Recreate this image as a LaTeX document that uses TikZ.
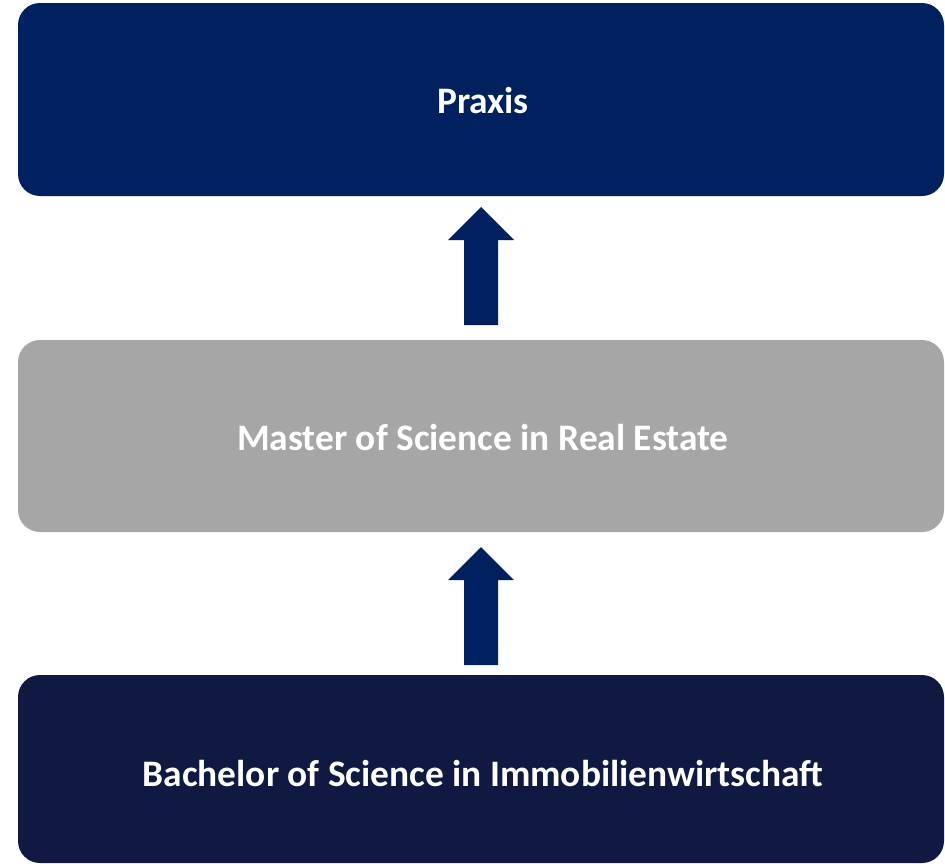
\documentclass[tikz,border=0pt]{standalone}
\usepackage{fontspec}
\setmainfont{Carlito}
\definecolor{topblue}{HTML}{002060}
\definecolor{midgray}{HTML}{A6A6A6}
\definecolor{botblue}{HTML}{0F1941}
\begin{document}
\begin{tikzpicture}[x=1pt,y=-1pt,
  label/.style={text=white,font=\bfseries\fontsize{37.4}{44}\selectfont},
  uparrow/.style={fill=topblue,draw=none}]
\useasboundingbox (0,0) rectangle (945,865);
\fill[topblue,rounded corners=22pt] (18,3) rectangle (944,196);
\node[label] (praxis) at (483,101) {Praxis};
\fill[midgray,rounded corners=22pt] (18,340) rectangle (944,532);
\node[label] (master) at (483,438) {Master of Science in Real Estate};
\fill[botblue,rounded corners=22pt] (18,675) rectangle (944,863);
\node[label] (bachelor) at (483,774) {Bachelor of Science in Immobilienwirtschaft};
\fill[uparrow] (464,325) -- (464,240) -- (448,240) -- (481,207) -- (514,240) -- (498,240) -- (498,325) -- cycle;
\fill[uparrow] (464,665) -- (464,580) -- (448,580) -- (481,547) -- (514,580) -- (498,580) -- (498,665) -- cycle;
\end{tikzpicture}
\end{document}
